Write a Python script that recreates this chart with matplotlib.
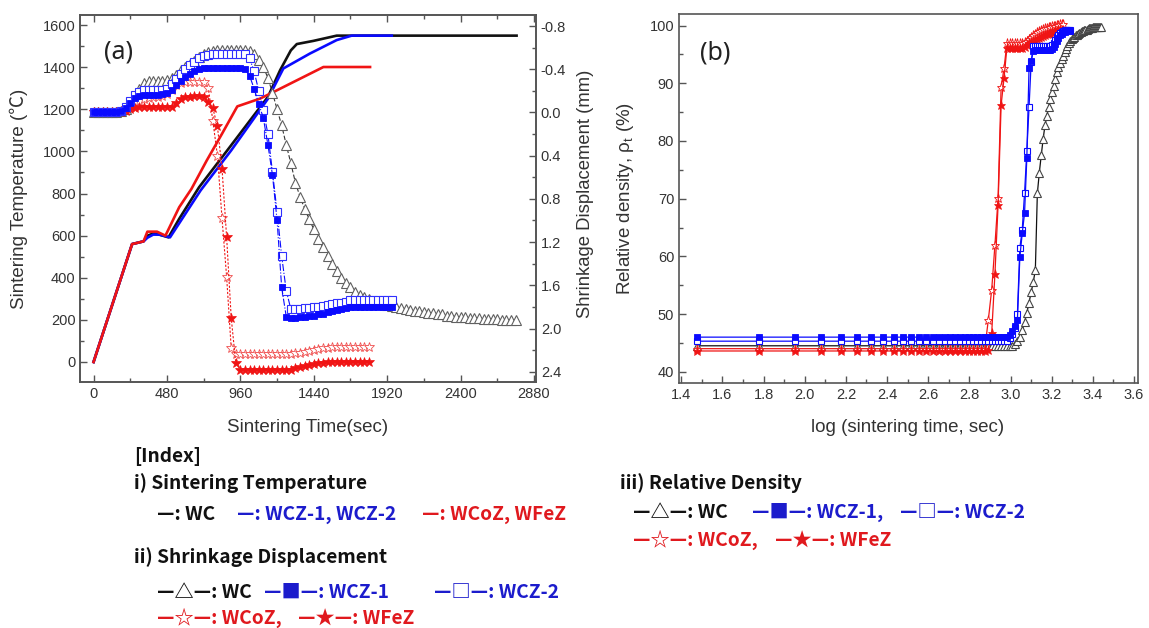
import numpy as np
import matplotlib
matplotlib.use('Agg')
import matplotlib.pyplot as plt
from matplotlib.ticker import MultipleLocator, FixedLocator, FormatStrFormatter

# ------------------------------------------------------------------ data
STEP = 30  # sampling interval of the dilatometer data (s)

# (a) sintering temperature profiles: vertex times (s) / temperatures (C)
temp_wc_t = [0, 252, 327, 352, 390, 430, 490, 560, 690, 890, 1140, 1220, 1290, 1329, 1437, 1590, 2766]
temp_wc_T = [0, 560, 573, 600, 610, 605, 592, 680, 830, 1020, 1259, 1386, 1480, 1510, 1525, 1550, 1550]
temp_wcz_t = [0, 252, 327, 352, 390, 430, 500, 570, 700, 900, 1140, 1241, 1415, 1590, 1688, 1950]
temp_wcz_T = [0, 560, 573, 590, 605, 605, 592, 670, 815, 1005, 1250, 1394, 1465, 1529, 1550, 1550]
temp_red_t = [0, 252, 327, 352, 415, 470, 560, 640, 740, 840, 940, 1089, 1176, 1503, 1808]
temp_red_T = [0, 560, 573, 619, 619, 600, 735, 822, 957, 1084, 1214, 1251, 1282, 1401, 1401]

# (a) shrinkage displacement (mm), one value every 30 s starting at t = 0
disp_wc = [0.00, 0.00, 0.00, 0.00, 0.00, 0.00,
           -0.01, -0.03, -0.08, -0.15, -0.22, -0.27,
           -0.29, -0.29, -0.29, -0.29, -0.30, -0.32,
           -0.35, -0.39, -0.42, -0.45, -0.48, -0.51,
           -0.54, -0.56, -0.57, -0.58, -0.58, -0.58,
           -0.58, -0.58, -0.58, -0.58, -0.57, -0.54,
           -0.49, -0.42, -0.32, -0.18, -0.03, 0.12,
           0.30, 0.47, 0.65, 0.78, 0.89, 0.99,
           1.08, 1.17, 1.25, 1.33, 1.40, 1.47,
           1.53, 1.58, 1.62, 1.66, 1.69, 1.71,
           1.73, 1.75, 1.76, 1.77, 1.78, 1.79,
           1.80, 1.81, 1.82, 1.83, 1.84, 1.84,
           1.85, 1.86, 1.86, 1.87, 1.87, 1.88,
           1.88, 1.89, 1.89, 1.89, 1.90, 1.90,
           1.90, 1.91, 1.91, 1.91, 1.91, 1.92,
           1.92, 1.92, 1.92]
disp_wcz1 = [0.00, 0.00, 0.00, 0.00, 0.00, 0.00,
             -0.01, -0.04, -0.09, -0.13, -0.15, -0.16,
             -0.16, -0.16, -0.16, -0.17, -0.18, -0.21,
             -0.25, -0.29, -0.33, -0.36, -0.38, -0.40,
             -0.41, -0.41, -0.41, -0.41, -0.41, -0.41,
             -0.41, -0.41, -0.41, -0.40, -0.34, -0.22,
             -0.08, 0.05, 0.30, 0.58, 1.00, 1.62,
             1.89, 1.90, 1.90, 1.89, 1.89, 1.88,
             1.88, 1.87, 1.87, 1.85, 1.84, 1.83,
             1.82, 1.81, 1.80, 1.80, 1.80, 1.80,
             1.80, 1.80, 1.80, 1.80, 1.80, 1.80]
disp_wcz2 = [0.00, 0.00, 0.00, 0.00, 0.00, 0.00,
             -0.01, -0.05, -0.11, -0.16, -0.19, -0.21,
             -0.21, -0.21, -0.21, -0.21, -0.22, -0.26,
             -0.31, -0.36, -0.40, -0.44, -0.47, -0.50,
             -0.52, -0.53, -0.54, -0.54, -0.54, -0.54,
             -0.54, -0.54, -0.54, -0.54, -0.50, -0.38,
             -0.20, -0.02, 0.20, 0.55, 0.92, 1.33,
             1.65, 1.82, 1.82, 1.82, 1.81, 1.81,
             1.80, 1.80, 1.79, 1.78, 1.77, 1.76,
             1.76, 1.75, 1.74, 1.74, 1.74, 1.74,
             1.74, 1.74, 1.74, 1.74, 1.74, 1.74]
disp_wcoz = [0.00, 0.00, 0.00, 0.00, 0.00, 0.00,
             -0.01, -0.03, -0.06, -0.09, -0.11, -0.12,
             -0.13, -0.14, -0.145, -0.15, -0.17, -0.21,
             -0.25, -0.27, -0.28, -0.28, -0.28, -0.28,
             -0.28, -0.23, 0.08, 0.40, 0.98, 1.52,
             2.18, 2.24, 2.24, 2.24, 2.24, 2.24,
             2.24, 2.24, 2.24, 2.24, 2.24, 2.24,
             2.24, 2.24, 2.23, 2.23, 2.22, 2.21,
             2.20, 2.19, 2.18, 2.18, 2.17, 2.17,
             2.17, 2.17, 2.17, 2.17, 2.17, 2.17,
             2.17]
disp_wfez = [0.00, 0.00, 0.00, 0.00, 0.00, 0.00,
             0.00, -0.01, -0.03, -0.04, -0.05, -0.05,
             -0.05, -0.05, -0.05, -0.05, -0.05, -0.05,
             -0.09, -0.12, -0.14, -0.145, -0.15, -0.15,
             -0.14, -0.10, -0.04, 0.13, 0.52, 1.15,
             1.90, 2.32, 2.38, 2.38, 2.38, 2.38,
             2.38, 2.38, 2.38, 2.38, 2.38, 2.38,
             2.38, 2.38, 2.37, 2.36, 2.35, 2.34,
             2.33, 2.32, 2.32, 2.31, 2.31, 2.31,
             2.31, 2.31, 2.31, 2.31, 2.31, 2.31,
             2.31]

# (b) relative density (%), one value every 30 s starting at t = 30 s
dens_wc = [44.5] * 34 + [
    44.8, 45.3, 46.0, 47.2, 48.6, 50.2, 52.0, 53.8, 55.6, 57.6,
    70.9, 74.5, 77.5, 80.3, 82.7, 84.3, 85.8, 87.2, 88.5, 89.6,
    90.8, 92.0, 92.8, 93.5, 94.2, 94.8, 95.4, 96.0, 96.5, 96.9,
    97.3, 97.6, 97.9, 98.1, 98.3, 98.4, 98.6, 98.7, 98.9, 99.0,
    99.1, 99.2, 99.3, 99.3, 99.4, 99.5, 99.5, 99.6, 99.6, 99.7,
    99.7, 99.7, 99.8, 99.8, 99.8, 99.8, 99.8, 99.8]
dens_wcz1 = [46.0] * 32 + [
    46.3, 47.0, 48.0, 49.0, 59.9, 64.0, 67.5, 77.0, 92.6, 93.8,
    95.6, 95.8, 95.8, 95.8, 95.8, 95.8, 95.8, 95.8, 95.8, 95.8,
    95.9, 96.2, 96.8, 97.4, 97.9, 98.3, 98.6, 98.8, 98.9, 99.0,
    99.0, 99.0, 99.0]
dens_wcz2 = [45.3] * 32 + [
    45.8, 46.5, 47.5, 50.0, 61.5, 64.6, 71.0, 78.2, 85.8, 93.7,
    96.4, 96.4, 96.4, 96.4, 96.4, 96.4, 96.4, 96.4, 96.4, 96.4,
    96.6, 97.0, 97.5, 98.0, 98.4, 98.7, 98.9, 99.1, 99.2, 99.3,
    99.3, 99.3, 99.3]
dens_wcoz = [44.0] * 25 + [
    49.0, 54.2, 62.0, 70.1, 89.3, 92.6, 96.9, 96.9, 96.9, 96.9,
    96.9, 96.9, 96.9, 97.1, 97.4, 97.7, 98.0, 98.3, 98.6, 98.8,
    99.0, 99.2, 99.4, 99.5, 99.6, 99.7, 99.8, 99.9, 100.0, 100.0,
    100.1, 100.1, 100.2, 100.2, 100.2]
dens_wfez = [43.6] * 25 + [
    43.8, 46.7, 57.0, 68.9, 86.2, 90.9, 96.1, 96.1, 96.1, 96.1,
    96.1, 96.1, 96.1, 96.3, 96.6, 96.9, 97.1, 97.3, 97.5, 97.7,
    97.9, 98.1, 98.2, 98.4, 98.5, 98.6, 98.7, 98.8, 98.9, 99.0,
    99.1, 99.2, 99.2, 99.3, 99.3]

x_ticks_a = [0, 480, 960, 1440, 1920, 2400, 2880]
y_ticks_a = [0, 200, 400, 600, 800, 1000, 1200, 1400, 1600]
y2_ticks_a = [-0.8, -0.4, 0.0, 0.4, 0.8, 1.2, 1.6, 2.0, 2.4]
x_ticks_b = [1.4, 1.6, 1.8, 2.0, 2.2, 2.4, 2.6, 2.8, 3.0, 3.2, 3.4, 3.6]
y_ticks_b = [40, 50, 60, 70, 80, 90, 100]

# ------------------------------------------------------------------ style
BLACK = '#111111'
BLUE = '#0a0aff'
RED = '#f01414'
SPINE = '#555555'
TXT = '#333333'
TICKFONT = ['Liberation Sans', 'DejaVu Sans']
LABFONT = ['Liberation Sans', 'Noto Sans CJK KR', 'DejaVu Sans']
LEGFONT = ['Noto Sans CJK KR', 'DejaVu Sans']

plt.rcParams['font.family'] = TICKFONT
plt.rcParams['mathtext.fontset'] = 'custom'
plt.rcParams['mathtext.rm'] = 'Liberation Sans'

W, H = 1149, 628
fig = plt.figure(figsize=(W / 100, H / 100), dpi=100)
fig.patch.set_facecolor('white')


def fx(px):
    return px / W


def fy(py):
    return 1 - py / H


def style_axes(a):
    for s in a.spines.values():
        s.set_color(SPINE)
        s.set_linewidth(1.2)
    a.tick_params(which='both', direction='in', colors=SPINE, labelcolor=TXT,
                  labelsize=10.5, width=1.0)
    a.tick_params(which='major', length=5)
    a.tick_params(which='minor', length=3)


# ------------------------------------------------------------------ panel (a)
ax = fig.add_axes([fx(80.4), fy(382), (536 - 80.4) / W, (382 - 15) / H])
ax.plot(temp_wc_t, temp_wc_T, color=BLACK, lw=1.9, zorder=2)
ax.plot(temp_wcz_t, temp_wcz_T, color=BLUE, lw=1.9, zorder=2)
ax.plot(temp_red_t, temp_red_T, color=RED, lw=1.9, zorder=3)
ax.set_xlim(-86, 2893)
ax.set_ylim(-95, 1648)
ax.xaxis.set_major_locator(FixedLocator(x_ticks_a))
ax.xaxis.set_minor_locator(MultipleLocator(240))
ax.yaxis.set_major_locator(FixedLocator(y_ticks_a))
ax.yaxis.set_minor_locator(MultipleLocator(100))
style_axes(ax)
ax.tick_params(which='both', top=True, right=False)
ax.set_facecolor('none')

ax2 = ax.twinx()
t_wc = np.arange(len(disp_wc)) * STEP
t_wcz1 = np.arange(len(disp_wcz1)) * STEP
t_wcz2 = np.arange(len(disp_wcz2)) * STEP
t_wcoz = np.arange(len(disp_wcoz)) * STEP
t_wfez = np.arange(len(disp_wfez)) * STEP
ax2.plot(t_wc, disp_wc, ls=(0, (4, 2)), lw=0.8, color='#333333', marker='^', ms=6.5,
         mfc='white', mec='#606060', mew=0.8)
ax2.plot(t_wcoz, disp_wcoz, ls=(0, (2, 1.5)), lw=0.8, color=RED, marker='*', ms=7.5,
         mfc='white', mec='#f05050', mew=0.6)
ax2.plot(t_wfez, disp_wfez, ls=(0, (2, 1.5)), lw=0.8, color=RED, marker='*', ms=7.5,
         mfc=RED, mec=RED, mew=0.5)
ax2.plot(t_wcz2, disp_wcz2, ls='-.', lw=0.8, color=BLUE, marker='s', ms=5.5,
         mfc='white', mec='#3030ff', mew=0.8)
ax2.plot(t_wcz1, disp_wcz1, ls='-.', lw=0.8, color=BLUE, marker='s', ms=5,
         mfc=BLUE, mec=BLUE, mew=0.6)
ax2.set_ylim(2.495, -0.902)
ax2.yaxis.set_major_locator(FixedLocator(y2_ticks_a))
ax2.yaxis.set_minor_locator(MultipleLocator(0.2))
ax2.yaxis.set_major_formatter(FormatStrFormatter('%.1f'))
style_axes(ax2)
ax2.tick_params(which='both', top=False, left=False)

fig.text(fx(118.6), fy(52), '(a)', fontsize=18, family=['Noto Sans', 'DejaVu Sans'],
         ha='center', va='center', color='#222222')
fig.text(fx(308), fy(427), 'Sintering Time(sec)', fontsize=13.5, family=LABFONT,
         ha='center', va='center', color=TXT)
fig.text(fx(19), fy(198.5), 'Sintering Temperature (\u2103)', fontsize=13.5, family=LABFONT,
         ha='center', va='center', rotation=90, color=TXT)
fig.text(fx(586), fy(194), 'Shrinkage Displacement (mm)', fontsize=13.3, family=LABFONT,
         ha='center', va='center', rotation=90, color=TXT)

# ------------------------------------------------------------------ panel (b)
bx = fig.add_axes([fx(679), fy(383.3), (1137.5 - 679) / W, (383.3 - 14) / H])


def logt(d):
    return np.log10((np.arange(len(d)) + 1) * STEP)


bx.plot(logt(dens_wc), dens_wc, '-', lw=0.9, color=BLACK, marker='^', ms=6,
        mfc='white', mec='#444444', mew=0.8)
bx.plot(logt(dens_wcoz), dens_wcoz, '-', lw=0.9, color=RED, marker='*', ms=6.5,
        mfc='white', mec=RED, mew=0.6)
bx.plot(logt(dens_wfez), dens_wfez, '-', lw=0.9, color=RED, marker='*', ms=6.5,
        mfc=RED, mec=RED, mew=0.5)
bx.plot(logt(dens_wcz2), dens_wcz2, '-', lw=0.9, color=BLUE, marker='s', ms=5,
        mfc='white', mec=BLUE, mew=0.8)
bx.plot(logt(dens_wcz1), dens_wcz1, '-', lw=0.9, color=BLUE, marker='s', ms=5,
        mfc=BLUE, mec=BLUE, mew=0.6)
bx.set_xlim(1.389, 3.617)
bx.set_ylim(38.0, 102.0)
bx.xaxis.set_major_locator(FixedLocator(x_ticks_b))
bx.xaxis.set_minor_locator(MultipleLocator(0.1))
bx.xaxis.set_major_formatter(FormatStrFormatter('%.1f'))
bx.yaxis.set_major_locator(FixedLocator(y_ticks_b))
bx.yaxis.set_minor_locator(MultipleLocator(5))
style_axes(bx)

fig.text(fx(715.5), fy(53), '(b)', fontsize=18, family=['Noto Sans', 'DejaVu Sans'],
         ha='center', va='center', color='#222222')
fig.text(fx(908), fy(427), 'log (sintering time, sec)', fontsize=13.5, family=LABFONT,
         ha='center', va='center', color=TXT)
fig.text(fx(626), fy(198.5), 'Relative density, \u03c1$_\\mathregular{t}$ (%)', fontsize=13.5,
         family=LABFONT, ha='center', va='center', rotation=90, color=TXT)

# ------------------------------------------------------------------ index (legend text)
LB = '#1c1ccc'
LR = '#e0191e'
LK = '#111111'
LFS = 13.8


def ltext(x, y, s, c=LK):
    fig.text(fx(x), fy(y), s, fontsize=LFS, family=LEGFONT, weight='bold',
             ha='left', va='center', color=c)


ltext(134, 457, '[Index]')
ltext(134, 483, 'i) Sintering Temperature')
ltext(157, 515, '\u2014: WC', LK)
ltext(237, 515, '\u2014: WCZ-1, WCZ-2', LB)
ltext(422, 515, '\u2014: WCoZ, WFeZ', LR)
ltext(134, 557, 'ii) Shrinkage Displacement')
ltext(157, 592, '\u2014\u25b3\u2014: WC', LK)
ltext(264, 592, '\u2014\u25a0\u2014: WCZ-1', LB)
ltext(434, 592, '\u2014\u25a1\u2014: WCZ-2', LB)
ltext(157, 618, '\u2014\u2606\u2014: WCoZ,', LR)
ltext(298, 618, '\u2014\u2605\u2014: WFeZ', LR)
ltext(620, 483, 'iii) Relative Density')
ltext(633, 512, '\u2014\u25b3\u2014: WC', LK)
ltext(752, 512, '\u2014\u25a0\u2014: WCZ-1,', LB)
ltext(900, 512, '\u2014\u25a1\u2014: WCZ-2', LB)
ltext(633, 540, '\u2014\u2606\u2014: WCoZ,', LR)
ltext(775, 540, '\u2014\u2605\u2014: WFeZ', LR)

fig.savefig('out.png', dpi=100, facecolor='white')
